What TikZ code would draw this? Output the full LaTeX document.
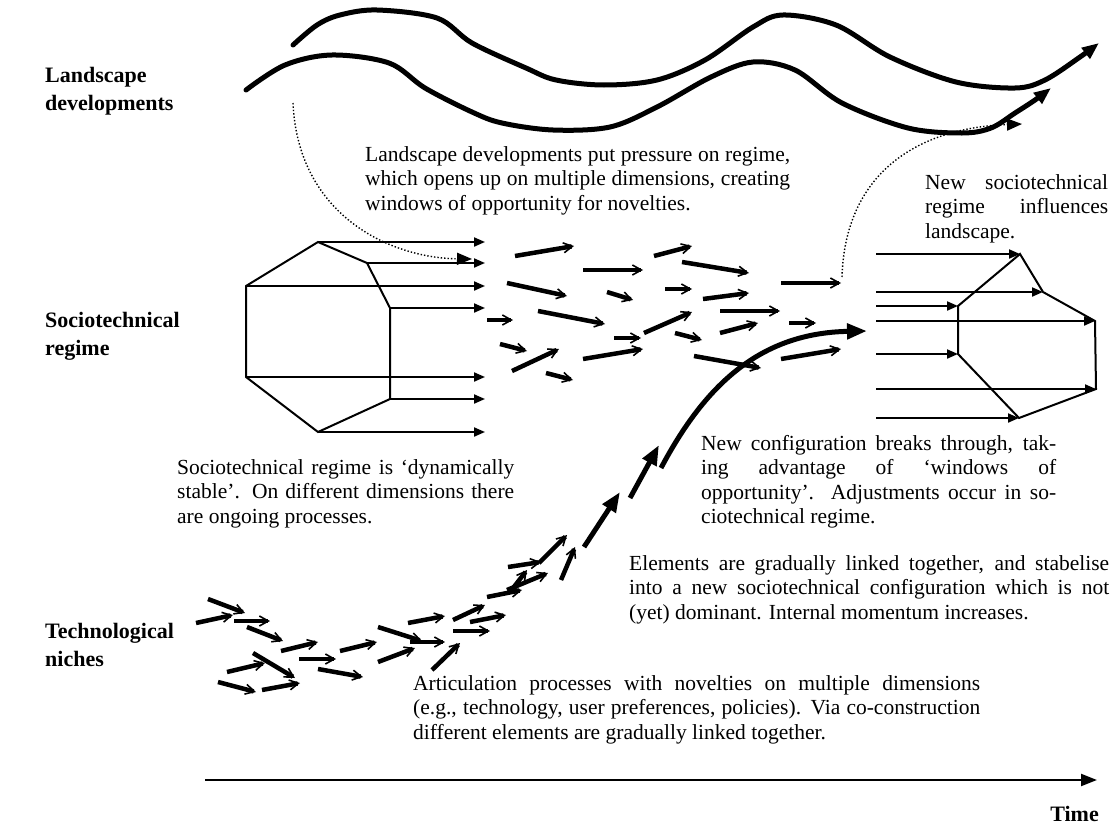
\documentclass[tikz,border=0pt]{standalone}
\usepackage{fontspec}
\setmainfont{Liberation Serif}
\usetikzlibrary{arrows.meta}
\begin{document}
\begin{tikzpicture}[x=1pt,y=-1pt,
  body/.style={anchor=north west, inner sep=0pt, align=left, font=\fontsize{21.5}{24.5}\selectfont},
  lvl/.style={anchor=north west, inner sep=0pt, align=left, font=\fontsize{22}{28}\selectfont\bfseries},
  polyline/.style={line width=2pt, line join=miter},
  thinarr/.style={line width=2pt, -{Triangle[length=11pt,width=9pt]}},
  smallarr/.style={line width=4.5pt, -{Straight Barb[length=9pt,width=10pt,line width=1.6pt]}},
  bigarr/.style={line width=5pt, -{Triangle[length=20pt,width=15pt]}},
  wave/.style={line width=5pt, line cap=round, line join=round, -{Triangle[length=17pt,width=13pt]}},
  dotarr/.style={line width=1.4pt, dotted, -{Triangle[length=15pt,width=12pt]}},
  timearr/.style={line width=2.2pt, -{Triangle[length=16pt,width=12pt]}}
]
\useasboundingbox (0,0) rectangle (1111,827);

% level labels
\node[lvl] (lland) at (45,67) {Landscape\\developments};
\node[lvl] (lreg) at (45,312) {Sociotechnical\\regime};
\node[lvl] (lniche) at (45,623) {Technological\\niches};

% landscape waves
\draw[wave] plot[smooth, tension=0.55] coordinates {(293,45) (317,25) (340,15) (377,10) (437,18) (472,43) (526,68) (556,80) (604,85) (657,80) (705,60) (753,27) (783,15) (836,25) (890,57) (956,82) (1015,88) (1045,80) (1080,57) (1099,43)};
\draw[wave] plot[smooth, tension=0.55] coordinates {(246,90) (285,65) (332,55) (389,63) (425,88) (472,112) (502,123) (553,130) (610,127) (657,107) (711,77) (753,62) (795,70) (842,103) (908,128) (962,133) (991,128) (1015,113) (1035,100) (1051,88)};

% texts
\node[body] (t1) at (365,146) {\makebox[425pt][s]{Landscape developments put pressure on regime,}\\
\makebox[425pt][s]{which opens up on multiple dimensions, creating}\\
windows of opportunity for novelties.};
\node[body] (t2) at (925,174) {\makebox[183pt][s]{New sociotechnical}\\
\makebox[183pt][s]{regime influences}\\
landscape.};
\node[body] (t3) at (177,459) {\makebox[337pt][s]{Sociotechnical regime is ‘dynamically}\\
\makebox[337pt][s]{stable’. On different dimensions there}\\
are ongoing processes.};
\node[body] (t4) at (701,435) {\makebox[355pt][s]{New configuration breaks through, tak-}\\
\makebox[355pt][s]{ing advantage of ‘windows of}\\
\makebox[355pt][s]{opportunity’. Adjustments occur in so-}\\
ciotechnical regime.};
\node[body] (t5) at (629,555) {\makebox[480pt][s]{Elements are gradually linked together, and stabelise}\\
\makebox[480pt][s]{into a new sociotechnical configuration which is not}\\
(yet) dominant. Internal momentum increases.};
\node[body] (t6) at (413,675) {\makebox[567pt][s]{Articulation processes with novelties on multiple dimensions}\\
\makebox[567pt][s]{(e.g., technology, user preferences, policies). Via co-construction}\\
different elements are gradually linked together.};

% current regime polygon
\coordinate (LA) at (318,242); \coordinate (LB) at (367,263);
\coordinate (LC) at (390,308); \coordinate (LD) at (390,399);
\coordinate (LE) at (318,432); \coordinate (LF) at (246,377);
\coordinate (LG) at (246,286); \coordinate (LX) at (485,0);
\draw[polyline] (LG)--(LA)--(LB)--(LC)--(LD)--(LE)--(LF)--cycle;
\foreach \v in {LA,LB,LC,LD,LE,LF,LG} \draw[thinarr] (\v) -- (\v -| LX);

% new regime polygon
\coordinate (RA) at (1020,254); \coordinate (RB) at (1043,292);
\coordinate (RC) at (1095,321); \coordinate (RD) at (1096,389);
\coordinate (RE) at (1019,418); \coordinate (RF) at (958,354);
\coordinate (RG) at (958,306); \coordinate (RX) at (876,0);
\draw[polyline] (RG)--(RA)--(RB)--(RC)--(RD)--(RE)--(RF)--cycle;
\foreach \v in {RA,RB,RC,RD,RE,RF,RG} \draw[thinarr] (\v -| RX) -- (\v);

% regime dynamics arrows
\foreach \a/\b/\c/\d in {515/256/574/246, 583/270/643/270, 654/256/692/246, 682/262/749/273,
  507/283/567/296, 607/292/633/300, 665/289/692/289, 703/299/749/293, 781/283/841/283,
  487/320/513/320, 538/311/605/324, 720/311/780/311, 789/323/816/323, 644/333/692/312,
  614/338/641/338, 675/333/702/340, 720/333/758/323, 500/344/527/351, 512/371/559/349,
  583/359/643/349, 694/356/761/368, 781/359/841/349, 546/373/573/380}
  \draw[smallarr] (\a,\b) -- (\c,\d);

% niche arrows
\foreach \a/\b/\c/\d in {208/599/245/613, 196/623/233/615, 234/621/270/621, 247/627/283/641,
  281/651/318/642, 299/659/336/659, 340/651/377/642, 378/627/422/641, 378/662/415/648,
  253/653/295/678, 227/672/265/663, 218/682/256/692, 262/690/300/683, 318/669/363/677,
  408/623/445/616, 453/620/485/605, 470/622/506/615, 453/631/490/631, 410/642/445/642,
  432/670/460/643, 487/597/522/590, 508/567/541/562, 539/563/567/535, 510/592/527/570,
  507/590/548/573, 561/580/575/547}
  \draw[smallarr] (\a,\b) -- (\c,\d);

% breakthrough arrow
\draw[bigarr] (584,547) -- (620,492);
\draw[bigarr] (630,498) -- (659,445);
\coordinate (bs) at (661,468); \coordinate (be) at (867,331);
\draw[bigarr] (bs) .. controls (705,385) and (760,333) .. (be);

% dotted influences
\coordinate (d1s) at (293,103); \coordinate (d1e) at (472,259);
\draw[dotarr] (d1s) .. controls (298,215) and (390,258) .. (d1e);
\coordinate (d2s) at (842,277); \coordinate (d2e) at (1022,124);
\draw[dotarr] (d2s) .. controls (845,175) and (915,128) .. (d2e);

% time axis
\coordinate (T0) at (205,780); \coordinate (T1) at (1097,780);
\draw[timearr] (T0) -- (T1);
\node[lvl, anchor=north east] (ltime) at (1099,806) {Time};
\end{tikzpicture}
\end{document}
